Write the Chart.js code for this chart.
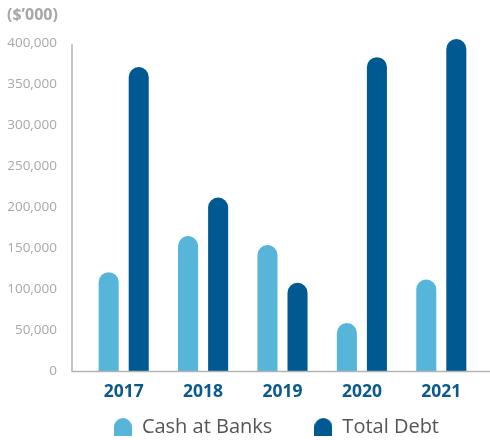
<!DOCTYPE html>
<html>
<head>
<meta charset="utf-8">
<script src="https://cdn.jsdelivr.net/npm/chart.js@4.4.0/dist/chart.umd.min.js"></script>
<style>
  html, body { margin:0; padding:0; background:#fff; }
  #wrap { width:490px; height:440px; position:relative; }
</style>
</head>
<body>
<div id="wrap"><canvas id="chart"></canvas></div>
<script>
  // values in $'000 units
  const years       = ['2017','2018','2019','2020','2021'];
  const cashAtBanks = [121000, 165000, 154000, 59000, 112000];
  const totalDebt   = [371000, 212000, 108000, 383000, 405000];
  const yMax  = 400000;
  const yStep = 50000;

  const LIGHT = '#56b5d8';
  const DARK  = '#005a91';
  const AXIS  = '#b3b3b3';

  function capIcon(color){
    const c = document.createElement('canvas');
    c.width = 18; c.height = 18;
    const g = c.getContext('2d');
    g.fillStyle = color;
    g.beginPath();
    g.moveTo(0,18);
    g.lineTo(0,9);
    g.arc(9,9,9,Math.PI,0);
    g.lineTo(18,18);
    g.closePath();
    g.fill();
    return c;
  }
  const icons = [capIcon(LIGHT), capIcon(DARK)];

  // axis lines sit a little left of the plot, like the original
  const axisLines = {
    id:'axisLines',
    afterLayout(chart){
      // legend sits tight under the year labels
      const lg = chart.legend;
      if (!lg) return;
      const d = chart.chartArea.bottom + 3.5 - lg.top;
      lg.top += d; lg.bottom += d;
    },
    afterDatasetsDraw(chart){
      const {ctx, chartArea:a} = chart;
      const x0 = a.left - 12;
      ctx.save();
      ctx.strokeStyle = AXIS;
      ctx.lineWidth = 1.5;
      ctx.beginPath();
      ctx.moveTo(x0, a.top + 1);
      ctx.lineTo(x0, a.bottom);
      ctx.lineTo(chart.width, a.bottom);
      ctx.stroke();
      ctx.restore();
    }
  };

  const roundTop = {topLeft:10, topRight:10, bottomLeft:0, bottomRight:0};

  new Chart(document.getElementById('chart'), {
    type:'bar',
    data:{
      labels: years,
      datasets:[
        { label:'Cash at Banks', data:cashAtBanks, backgroundColor:LIGHT,
          borderRadius:roundTop, borderSkipped:'start', clip:false },
        { label:'Total Debt', data:totalDebt, backgroundColor:DARK,
          borderRadius:roundTop, borderSkipped:'start', clip:false }
      ]
    },
    options:{
      responsive:true, maintainAspectRatio:false, animation:false,
      layout:{ padding:{ left:7, right:9, top:0, bottom:-37.5 } },
      categoryPercentage:0.757,
      barPercentage:0.667,
      plugins:{
        title:{
          display:true, text:'($’000)', align:'start',
          color:'#a6a6a6',
          font:{ family:'"Open Sans"', size:16, weight:'bold' },
          padding:{ top:6, bottom:18 }
        },
        legend:{
          position:'bottom', align:'end',
          labels:{
            usePointStyle:true, boxWidth:18, boxHeight:18, padding:42,
            color:'#555', font:{ family:'"Open Sans"', size:20 },
            generateLabels(chart){
              const items = Chart.defaults.plugins.legend.labels.generateLabels(chart);
              items.forEach((it,i)=>{ it.pointStyle = icons[i]; });
              return items;
            }
          }
        },
        tooltip:{ enabled:false }
      },
      scales:{
        x:{
          grid:{ display:false, drawTicks:false },
          border:{ display:false },
          afterFit(scale){ scale.height = 34; },
          ticks:{ color:'#0b5a8c', padding:10,
                  font:{ family:'"Open Sans"', size:17.5, weight:'bold' } }
        },
        y:{
          min:0, max:yMax,
          grid:{ display:false, drawTicks:false },
          border:{ display:false },
          afterFit(scale){ scale.width = 77; },
          ticks:{ stepSize:yStep, padding:27, color:'#a8a8a8',
                  font:{ family:'"Open Sans"', size:13.5 },
                  callback:v=>v.toLocaleString('en-US') }
        }
      }
    },
    plugins:[axisLines]
  });
</script>
</body>
</html>
